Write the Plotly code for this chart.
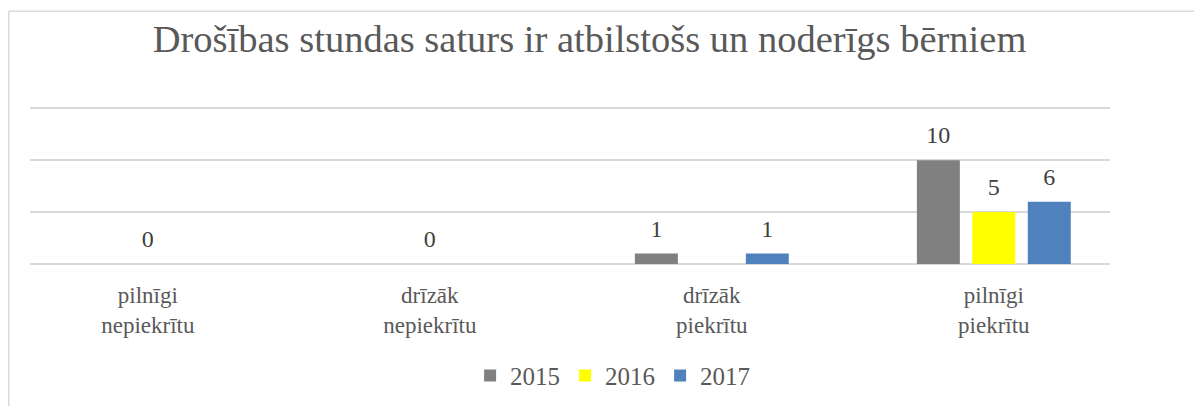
import plotly.graph_objects as go

# ---- data ----
categories = ["pilnīgi nepiekrītu", "drīzāk nepiekrītu", "drīzāk piekrītu", "pilnīgi piekrītu"]
tick_labels = ["pilnīgi<br>nepiekrītu", "drīzāk<br>nepiekrītu", "drīzāk<br>piekrītu", "pilnīgi<br>piekrītu"]
years = ["2015", "2016", "2017"]
values_2015 = [None, None, 1, 10]
values_2016 = [0, 0, None, 5]
values_2017 = [None, None, 1, 6]
series_colors = ["#808080", "#FFFF00", "#4F81BD"]
title_text = "Drošības stundas saturs ir atbilstošs un noderīgs bērniem"
y_ticks = [0, 5, 10, 15]

series_values = [values_2015, values_2016, values_2017]

FONT = "Liberation Serif"
TXT = "#595959"
GRID = "#d9d9d9"

fig = go.Figure()

for name, vals, col in zip(years, series_values, series_colors):
    fig.add_trace(go.Bar(
        x=categories, y=vals, name=name,
        marker=dict(color=col, line=dict(width=0)),
        hoverinfo="x+y+name",
    ))

for name, vals in zip(years, series_values):
    fig.add_trace(go.Scatter(
        x=categories, y=vals, mode="markers+text",
        text=["" if v is None else str(v) for v in vals],
        textposition="top center",
        textfont=dict(family=FONT, size=24, color="#404040"),
        marker=dict(size=16, opacity=0),
        showlegend=False, hoverinfo="skip", cliponaxis=False,
    ))

# chart frame (light border)
fig.add_shape(type="line", xref="paper", yref="paper",
              x0=-0.0197, x1=-0.0197, y0=-1.0, y1=1.5695,
              line=dict(color=GRID, width=1.5), layer="below")
fig.add_shape(type="line", xref="paper", yref="paper",
              x0=-0.0197, x1=1.2, y0=1.5695, y1=1.5695,
              line=dict(color=GRID, width=1.5), layer="below")

fig.update_layout(
    width=1202, height=406,
    margin=dict(l=22, r=100, t=94.8, b=150, autoexpand=False),
    paper_bgcolor="white", plot_bgcolor="white",
    barmode="group", bargap=0.41, bargroupgap=0.225,
    scattermode="group", scattergap=0.41,
    title=dict(text=title_text, x=0.4838, xref="container", xanchor="center",
               y=0.925, yref="container", yanchor="middle", automargin=False,
               font=dict(family=FONT, size=38.5, color=TXT)),
    legend=dict(orientation="h", x=0.503, xref="container", xanchor="center",
                y=0.094, yref="container", yanchor="middle",
                font=dict(family=FONT, size=25, color=TXT),
                traceorder="normal"),
    xaxis=dict(type="category", categoryorder="array", categoryarray=categories,
               tickvals=categories, ticktext=tick_labels, automargin=False,
               range=[-0.418, 3.412], showgrid=False, zeroline=False,
               showline=False, ticks="", ticklabelstandoff=15,
               tickfont=dict(family=FONT, size=23, color=TXT)),
    yaxis=dict(range=[0, 15.5], tickvals=y_ticks, showticklabels=False, automargin=False,
               showgrid=True, gridcolor=GRID, gridwidth=1.5,
               zeroline=True, zerolinecolor=GRID, zerolinewidth=1.5,
               showline=False, ticks=""),
    showlegend=True,
)

fig.write_html("out.html")
